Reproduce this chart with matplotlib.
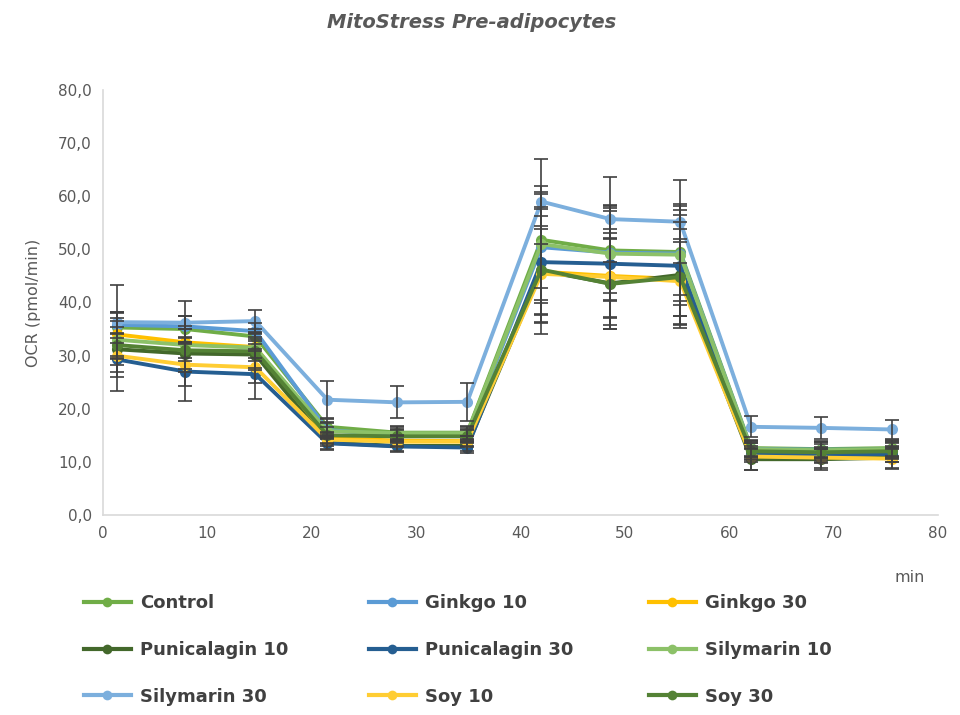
import matplotlib
matplotlib.use("Agg")
import matplotlib.pyplot as plt
from matplotlib.lines import Line2D

# ---- data ----
time_min = [1.3, 7.9, 14.6, 21.5, 28.2, 34.9, 42.0, 48.6, 55.3, 62.1, 68.8, 75.6]

series_names = ["Control", "Ginkgo 10", "Ginkgo 30",
                "Punicalagin 10", "Punicalagin 30", "Silymarin 10",
                "Silymarin 30", "Soy 10", "Soy 30"]

control        = [35.3, 35.0, 33.6, 16.6, 15.5, 15.5, 51.8, 49.8, 49.5, 12.6, 12.4, 12.6]
ginkgo_10      = [35.8, 35.5, 34.6, 16.0, 15.0, 15.0, 50.4, 49.4, 49.2, 12.4, 12.3, 12.3]
ginkgo_30      = [34.0, 32.5, 31.6, 14.5, 14.0, 13.9, 45.8, 45.0, 44.4, 11.5, 11.2, 11.2]
punicalagin_10 = [31.2, 30.4, 30.2, 13.6, 13.0, 13.0, 46.0, 43.6, 45.2, 10.5, 10.5, 10.8]
punicalagin_30 = [29.3, 27.0, 26.5, 13.5, 12.9, 12.7, 47.6, 47.3, 46.9, 11.5, 11.2, 11.5]
silymarin_10   = [33.0, 32.0, 31.5, 15.8, 15.4, 15.4, 51.0, 49.2, 49.0, 12.4, 12.2, 12.4]
silymarin_30   = [36.3, 36.2, 36.5, 21.7, 21.2, 21.3, 59.0, 55.7, 55.2, 16.6, 16.4, 16.1]
soy_10         = [30.0, 28.3, 27.8, 14.2, 13.8, 13.8, 45.4, 44.8, 44.0, 11.0, 10.8, 10.6]
soy_30         = [32.0, 31.0, 30.8, 15.0, 14.8, 14.8, 46.2, 43.5, 44.8, 12.0, 11.8, 12.0]

control_err        = [3.0, 2.5, 1.5, 1.5, 1.2, 1.2, 9.0, 8.0, 8.0, 1.5, 1.5, 1.5]
ginkgo_10_err      = [2.5, 2.0, 1.5, 1.5, 1.2, 1.2, 10.0, 9.0, 9.0, 1.5, 1.5, 1.5]
ginkgo_30_err      = [4.0, 3.0, 2.0, 1.2, 1.0, 1.0, 8.0, 8.0, 7.0, 1.2, 1.2, 1.2]
punicalagin_10_err = [3.0, 3.0, 2.5, 1.2, 1.0, 1.0, 12.0, 8.5, 10.0, 2.0, 2.0, 2.0]
punicalagin_30_err = [6.0, 5.5, 4.7, 1.2, 1.0, 1.0, 10.0, 10.0, 9.5, 1.5, 1.5, 1.5]
silymarin_10_err   = [3.5, 3.0, 2.5, 1.5, 1.2, 1.2, 11.0, 9.0, 9.5, 1.5, 1.5, 1.5]
silymarin_30_err   = [7.0, 4.0, 2.0, 3.5, 3.0, 3.6, 8.0, 8.0, 7.8, 2.0, 2.0, 1.7]
soy_10_err         = [4.0, 4.0, 3.0, 1.2, 1.0, 1.0, 9.0, 9.0, 8.0, 2.5, 2.0, 2.0]
soy_30_err         = [5.0, 4.0, 3.5, 1.5, 1.2, 1.2, 10.0, 8.5, 9.0, 1.5, 1.5, 1.5]

series_values = [control, ginkgo_10, ginkgo_30, punicalagin_10, punicalagin_30,
                 silymarin_10, silymarin_30, soy_10, soy_30]
series_errors = [control_err, ginkgo_10_err, ginkgo_30_err, punicalagin_10_err,
                 punicalagin_30_err, silymarin_10_err, silymarin_30_err,
                 soy_10_err, soy_30_err]
series_colors = ["#70AD47", "#5B9BD5", "#FFC000", "#43682B", "#255E91",
                 "#8CC168", "#7CAFDD", "#FFCD33", "#548235"]

y_ticks = [0, 10, 20, 30, 40, 50, 60, 70, 80]
x_ticks = [0, 10, 20, 30, 40, 50, 60, 70, 80]

# ---- figure ----
fig = plt.figure(figsize=(9.6, 7.15), dpi=100)
ax = fig.add_axes([103 / 960, 1 - 515 / 715, 835 / 960, 425 / 715])

for name, vals, errs, col in zip(series_names, series_values, series_errors, series_colors):
    ax.errorbar(time_min, vals, yerr=errs, fmt="none", ecolor="#404040",
                elinewidth=1.2, capsize=5, capthick=1.2, zorder=3)
    ax.plot(time_min, vals, color=col, lw=2.8, marker="o", ms=8,
            markeredgewidth=0, zorder=2, label=name)

ax.set_xlim(0, 80)
ax.set_ylim(0, 80)
ax.set_xticks(x_ticks)
ax.set_yticks(y_ticks)
ax.set_yticklabels([f"{v:.1f}".replace(".", ",") for v in y_ticks])
ax.set_xticklabels([str(v) for v in x_ticks])
for s in ["top", "right"]:
    ax.spines[s].set_visible(False)
for s in ["left", "bottom"]:
    ax.spines[s].set_color("#D9D9D9")
    ax.spines[s].set_linewidth(1.2)
ax.tick_params(axis="both", length=0, labelsize=11, colors="#595959", pad=8)
ax.set_ylabel("OCR (pmol/min)", fontsize=11.5, color="#595959", labelpad=12)

fig.text(910 / 960, 1 - 577 / 715, "min", fontsize=11.5, color="#595959",
         ha="center", va="center")
fig.text(472 / 960, 1 - 22 / 715, "MitoStress Pre-adipocytes", fontsize=14,
         fontweight="bold", fontstyle="italic", color="#595959",
         ha="center", va="center")

# ---- legend: 3 columns placed individually ----
col_x = [84 / 960, 369 / 960, 649 / 960]
for c in range(3):
    idx = [c, c + 3, c + 6]
    h = [Line2D([0], [0], color=series_colors[i], lw=3, marker="o", ms=7,
                markeredgewidth=0) for i in idx]
    lab = [series_names[i] for i in idx]
    leg = fig.legend(h, lab, loc="upper left", bbox_to_anchor=(col_x[c], 1 - 594 / 715),
                     frameon=False, fontsize=13, handlelength=2.6, handletextpad=0.5,
                     labelspacing=1.6, borderaxespad=0, borderpad=0)
    for t in leg.get_texts():
        t.set_color("#404040")
        t.set_fontweight("bold")

fig.savefig("out.png", dpi=100)
